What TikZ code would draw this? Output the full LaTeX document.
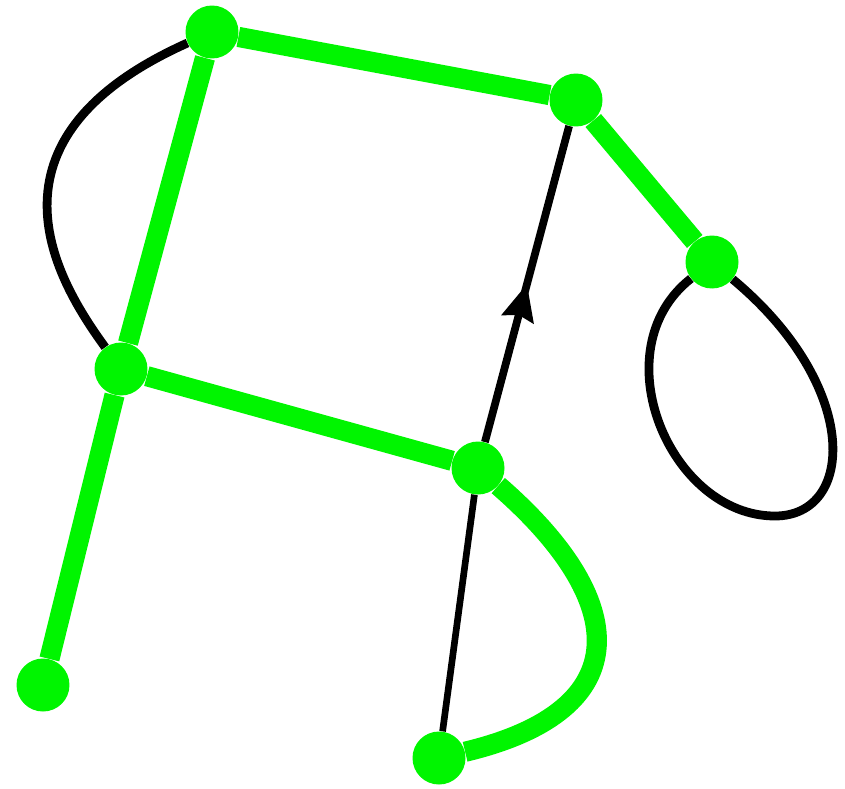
\documentclass[tikz,border=0pt]{standalone}
\usetikzlibrary{arrows.meta,decorations.markings,backgrounds}
\definecolor{gr}{RGB}{0,245,0}
\begin{document}
\begin{tikzpicture}[x=0.02cm,y=-0.02cm,
  vert/.style={circle,fill=gr,inner sep=0pt,minimum size=1.06cm},
  gedge/.style={draw=gr,line width=11.5pt},
  bedge/.style={draw=black,line width=5pt},
  midarrow/.style={postaction={decorate},decoration={markings,
     mark=at position 0.5 with {\arrow{Stealth[length=0.72cm,width=0.64cm,inset=0.08cm]}}}}]
\useasboundingbox (0,0) rectangle (845,788);
\node[vert] (A) at (212,32) {};
\node[vert] (B) at (576,100) {};
\node[vert] (C) at (712,262) {};
\node[vert] (D) at (121,369) {};
\node[vert] (E) at (478,468) {};
\node[vert] (F) at (43,685) {};
\node[vert] (G) at (439,758) {};
\coordinate (Cb) at (775,516);
\begin{pgfonlayer}{background}
\draw[bedge] (A) .. controls (-29,140) and (57,281) .. (D);
\draw[bedge] (C) .. controls (600,350) and (670,516) .. (Cb)
                 .. controls (855,516) and (862,387) .. (C);
\draw[draw=black,line width=4.4pt,midarrow] (E) -- (B);
\draw[draw=black,line width=3.8pt] (G) -- (E);
\draw[gedge] (A) -- (B);
\draw[gedge] (B) -- (C);
\draw[gedge] (A) -- (D);
\draw[gedge] (D) -- (E);
\draw[gedge] (D) -- (F);
\draw[gedge] (E) .. controls (630,600) and (640,710) .. (G);
\end{pgfonlayer}
\end{tikzpicture}
\end{document}
